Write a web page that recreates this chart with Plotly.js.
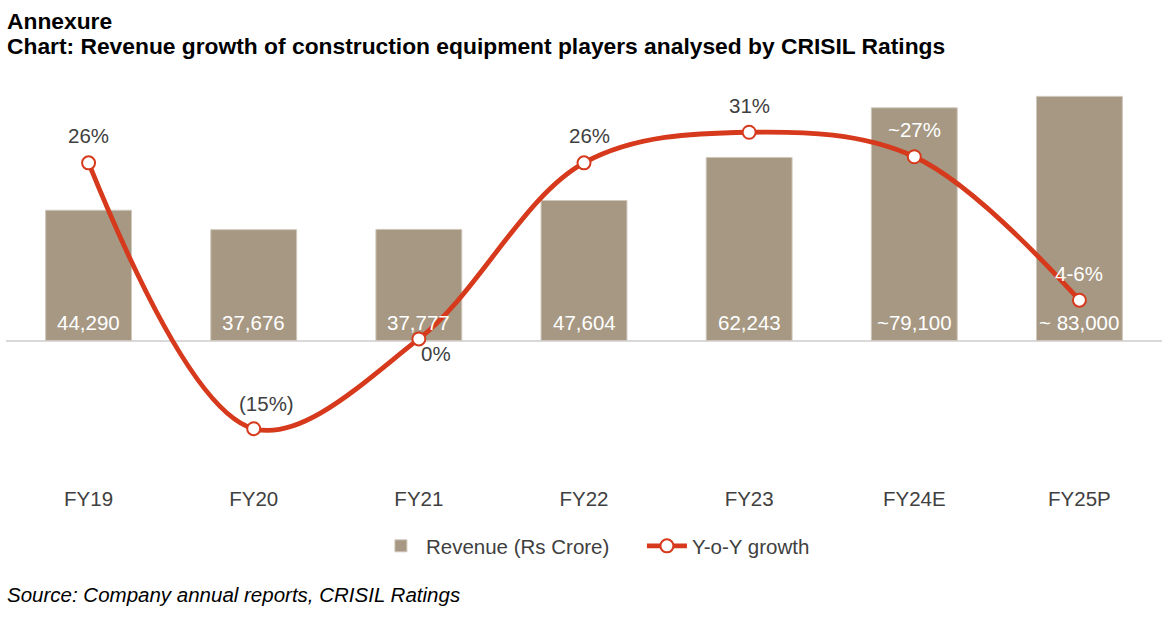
<!DOCTYPE html>
<html>
<head>
<meta charset="utf-8">
<script src="https://cdn.plot.ly/plotly-3.0.1.min.js"></script>
<style>html,body{margin:0;padding:0;background:#fff;}#chart{width:1172px;height:622px;}</style>
</head>
<body>
<div id="chart"></div>
<script>
// ---- data ----
const categories = ["FY19", "FY20", "FY21", "FY22", "FY23", "FY24E", "FY25P"];
const revenue = [44290, 37676, 37777, 47604, 62243, 79100, 83000];
const revenueLabels = ["44,290", "37,676", "37,777", "47,604", "62,243", "~79,100", "~ 83,000"];
const growth = [26.2, -12.9, 0.3, 26.2, 30.7, 27.1, 6.0];
const growthLabels = ["26%", "(15%)", "0%", "26%", "31%", "~27%", "4-6%"];

// ---- styling ----
const FONT = "Liberation Sans, Arial, sans-serif";
const FS = 20.5;
const TXT = "#404040";
const BAR = "#a69883";
const LINE = "#d6391b";
const growthLabelColor = [TXT, TXT, TXT, TXT, TXT, "#ffffff", "#ffffff"];
const growthLabelYShift = [27, 25, -15, 27, 27, 27, 27];
const growthLabelXShift = [0, 13, 17, 5, 0, 0, 0];

const traces = [
  {
    type: "bar", name: "Revenue (Rs Crore)", x: categories, y: revenue,
    marker: {color: BAR, line: {color: "#cfc7bb", width: 1}},
    width: 0.52, hoverinfo: "skip"
  },
  {
    type: "scatter", mode: "lines+markers", name: "Y-o-Y growth",
    x: categories, y: growth, yaxis: "y2",
    line: {color: LINE, width: 4.8, shape: "spline", smoothing: 1},
    marker: {size: 13, color: "#ffffff", line: {color: LINE, width: 2}},
    hoverinfo: "skip"
  }
];

const annotations = [];
categories.forEach((c, i) => {
  annotations.push({
    x: c, y: 0, xref: "x", yref: "y", text: revenueLabels[i], showarrow: false,
    yanchor: "middle", yshift: 18, font: {family: FONT, size: FS, color: "#ffffff"}
  });
  annotations.push({
    x: c, y: growth[i], xref: "x", yref: "y2", text: growthLabels[i], showarrow: false,
    yanchor: "middle", yshift: growthLabelYShift[i], xshift: growthLabelXShift[i],
    font: {family: FONT, size: FS, color: growthLabelColor[i]}
  });
});
// titles
annotations.push({
  xref: "paper", yref: "paper", x: 0, xshift: -1, y: (484 - 20.5) / 399, xanchor: "left", yanchor: "middle",
  text: "<b>Annexure</b>", showarrow: false, font: {family: FONT, size: 22.8, color: "#000000"}
});
annotations.push({
  xref: "paper", yref: "paper", x: 0, xshift: -1, y: (484 - 46.5) / 399, xanchor: "left", yanchor: "middle",
  text: "<b>Chart: Revenue growth of construction equipment players analysed by CRISIL Ratings</b>",
  showarrow: false, font: {family: FONT, size: 22.8, color: "#000000"}
});
// source
annotations.push({
  xref: "paper", yref: "paper", x: 0, xshift: -1, y: (484 - 594) / 399, xanchor: "left", yanchor: "middle",
  text: "<i>Source: Company annual reports, CRISIL Ratings</i>", showarrow: false,
  font: {family: FONT, size: FS, color: "#000000"}
});

const layout = {
  width: 1172, height: 622,
  margin: {l: 6, r: 10, t: 85, b: 138},
  paper_bgcolor: "#ffffff", plot_bgcolor: "#ffffff",
  font: {family: FONT, size: FS, color: TXT},
  xaxis: {
    type: "category", range: [-0.5, 6.5], showline: false, showgrid: false, zeroline: false,
    ticks: "", tickfont: {family: FONT, size: FS, color: TXT}, fixedrange: true
  },
  yaxis: {
    range: [-48790, 86870], showgrid: false, showticklabels: false, showline: false,
    zeroline: true, zerolinecolor: "#d9d9d9", zerolinewidth: 2, fixedrange: true
  },
  yaxis2: {
    overlaying: "y", side: "right", range: [-21.03, 37.65], showgrid: false,
    showticklabels: false, showline: false, zeroline: false, fixedrange: true
  },
  showlegend: true,
  legend: {
    orientation: "h", x: 0.32, xanchor: "left", y: (484 - 546) / 399, yanchor: "middle",
    font: {family: FONT, size: FS, color: TXT}, itemwidth: 40, entrywidth: 211, traceorder: "normal"
  },
  annotations: annotations
};

Plotly.newPlot("chart", traces, layout, {staticPlot: true, displayModeBar: false});
</script>
</body>
</html>
